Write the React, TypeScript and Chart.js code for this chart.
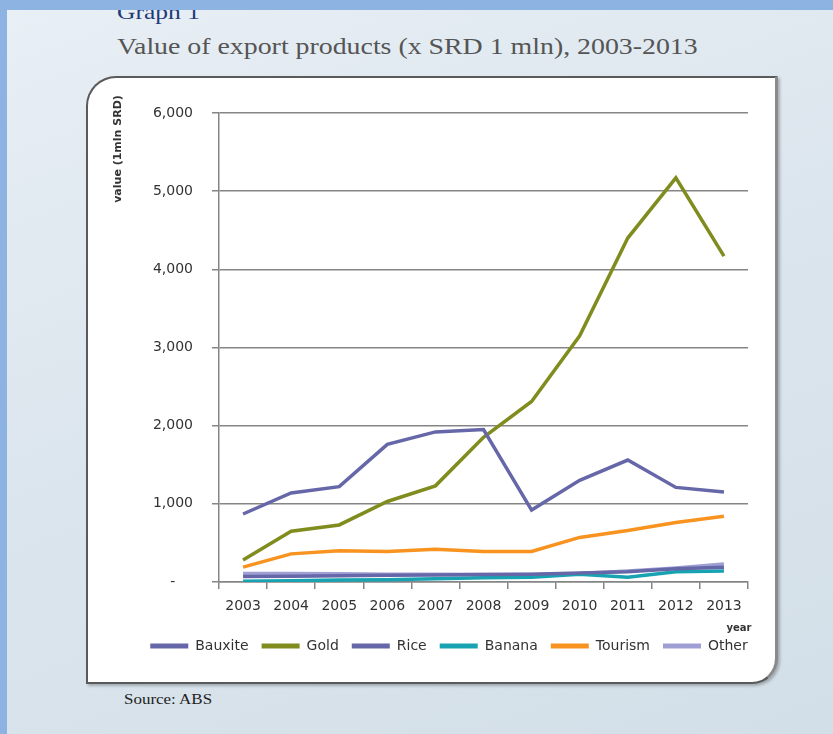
import React, { useEffect, useRef } from 'react';
import { Chart, registerables } from 'chart.js';

Chart.register(...registerables);

const years = ['2003', '2004', '2005', '2006', '2007', '2008', '2009', '2010', '2011', '2012', '2013'];
const bauxite = [870, 1140, 1220, 1760, 1920, 1950, 920, 1300, 1560, 1210, 1150];
const gold = [280, 650, 730, 1030, 1230, 1850, 2310, 3150, 4400, 5170, 4170];
const rice = [70, 75, 80, 85, 90, 95, 100, 115, 130, 170, 190];
const banana = [10, 15, 25, 30, 40, 55, 60, 100, 60, 130, 140];
const tourism = [190, 360, 400, 390, 420, 390, 390, 570, 660, 760, 840];
const other = [110, 110, 105, 100, 100, 95, 95, 110, 140, 180, 230];
const seriesNames = ['Bauxite', 'Gold', 'Rice', 'Banana', 'Tourism', 'Other'];
const seriesColors = ['#6667a8', '#808c1e', '#6667a8', '#17a3b2', '#f7931e', '#9f9fd4'];

const FONT = 'DejaVu Sans';
const GRID = '#858585';

export default function App() {
  const ref = useRef<HTMLCanvasElement>(null);

  useEffect(() => {
    if (!ref.current) return;
    const values = [bauxite, gold, rice, banana, tourism, other];
    const extraTitles = {
      id: 'extraTitles',
      afterDraw(chart: any) {
        const ctx = chart.ctx;
        ctx.save();
        ctx.fillStyle = '#333';
        ctx.font = `bold 11px "${FONT}"`;
        ctx.textAlign = 'center';
        ctx.textBaseline = 'middle';
        ctx.translate(32, 73);
        ctx.rotate(-Math.PI / 2);
        ctx.fillText('value (1mln SRD)', 0, 0);
        ctx.restore();
        ctx.save();
        ctx.fillStyle = '#333';
        ctx.font = `bold 10px "${FONT}"`;
        ctx.textAlign = 'center';
        ctx.textBaseline = 'middle';
        ctx.fillText('year', 653, 552);
        ctx.restore();
      },
    };
    const chart = new Chart(ref.current, {
      type: 'line',
      data: {
        labels: years,
        datasets: seriesNames.map((name, i) => ({
          label: name,
          data: values[i],
          borderColor: seriesColors[i],
          backgroundColor: seriesColors[i],
          borderWidth: 3.5,
          pointRadius: 0,
          tension: 0,
          fill: false,
        })),
      },
      options: {
        animation: false,
        responsive: false,
        maintainAspectRatio: false,
        layout: { padding: { top: 37, left: 34, right: 0, bottom: 21 } },
        plugins: {
          tooltip: { enabled: false },
          legend: {
            position: 'bottom',
            labels: {
              color: '#333',
              font: { family: FONT, size: 14 },
              boxWidth: 38,
              boxHeight: 5,
              padding: 13,
              generateLabels: (c: any) =>
                Chart.defaults.plugins.legend.labels.generateLabels(c).map((l: any) => ({
                  ...l,
                  lineWidth: 0,
                  fillStyle: l.strokeStyle,
                })),
            },
          },
        },
        scales: {
          x: {
            offset: true,
            grid: {
              offset: true,
              drawOnChartArea: false,
              color: GRID,
              lineWidth: 1.5,
              tickLength: 7,
            },
            border: { color: GRID, width: 1.5 },
            ticks: {
              color: '#333',
              font: { family: FONT, size: 14 },
              padding: 9,
              maxRotation: 0,
              autoSkip: false,
            },
            afterFit: (s: any) => {
              s.height = 44;
            },
          },
          y: {
            min: 0,
            max: 6000,
            grid: { color: GRID, lineWidth: 1.5, tickLength: 7 },
            border: { color: GRID, width: 1.5 },
            ticks: {
              stepSize: 1000,
              color: '#333',
              font: { family: FONT, size: 14 },
              padding: 19,
              callback: (v: any) => (Number(v) === 0 ? '-    ' : Number(v).toLocaleString('en-US')),
            },
            afterFit: (s: any) => {
              s.width = 99;
            },
          },
          y2: {
            position: 'right',
            display: true,
            grid: { display: false },
            ticks: { display: false },
            border: { display: false },
            afterFit: (s: any) => {
              s.width = 30;
            },
          },
        },
      },
      plugins: [extraTitles],
    } as any);
    return () => chart.destroy();
  }, []);

  const serif = '"Liberation Serif", "DejaVu Serif", serif';

  return (
    <div
      style={{
        position: 'fixed',
        left: 0,
        top: 0,
        width: 833,
        height: 734,
        overflow: 'hidden',
        background: 'linear-gradient(160deg, #e8eff5 0%, #dbe5ed 50%, #d3dfe8 100%)',
      }}
    >
      <div
        style={{
          position: 'absolute',
          left: 117,
          top: 1,
          fontFamily: serif,
          fontSize: 22,
          lineHeight: '22px',
          color: '#1f3b7a',
          whiteSpace: 'nowrap',
          transform: 'scaleX(1.16)',
          transformOrigin: 'left top',
        }}
      >
        Graph 1
      </div>
      <div style={{ position: 'absolute', left: 0, top: 0, width: 833, height: 10, background: '#8db3e2' }} />
      <div style={{ position: 'absolute', left: 0, top: 0, width: 7, height: 734, background: '#8db3e2' }} />
      <div
        style={{
          position: 'absolute',
          left: 117,
          top: 34,
          fontFamily: serif,
          fontSize: 24,
          lineHeight: '24px',
          color: '#555',
          whiteSpace: 'nowrap',
          transform: 'scaleX(1.16)',
          transformOrigin: 'left top',
        }}
      >
        Value of export products (x SRD 1 mln), 2003-2013
      </div>
      <div
        style={{
          position: 'absolute',
          left: 86,
          top: 76,
          width: 692,
          height: 608,
          boxSizing: 'border-box',
          background: '#fff',
          border: '2px solid #5a5a5a',
          borderRightColor: '#8a8a8a',
          borderRightWidth: 3,
          borderRadius: '30px 0 26px 0',
          boxShadow: '2px 2px 3px rgba(0,0,0,0.25)',
        }}
      />
      <canvas
        ref={ref}
        width={692}
        height={608}
        style={{ position: 'absolute', left: 86, top: 76, width: 692, height: 608 }}
      />
      <div
        style={{
          position: 'absolute',
          left: 124,
          top: 692,
          fontFamily: serif,
          fontSize: 15,
          lineHeight: '15px',
          color: '#222',
          whiteSpace: 'nowrap',
          transform: 'scaleX(1.13)',
          transformOrigin: 'left top',
        }}
      >
        Source: ABS
      </div>
    </div>
  );
}
